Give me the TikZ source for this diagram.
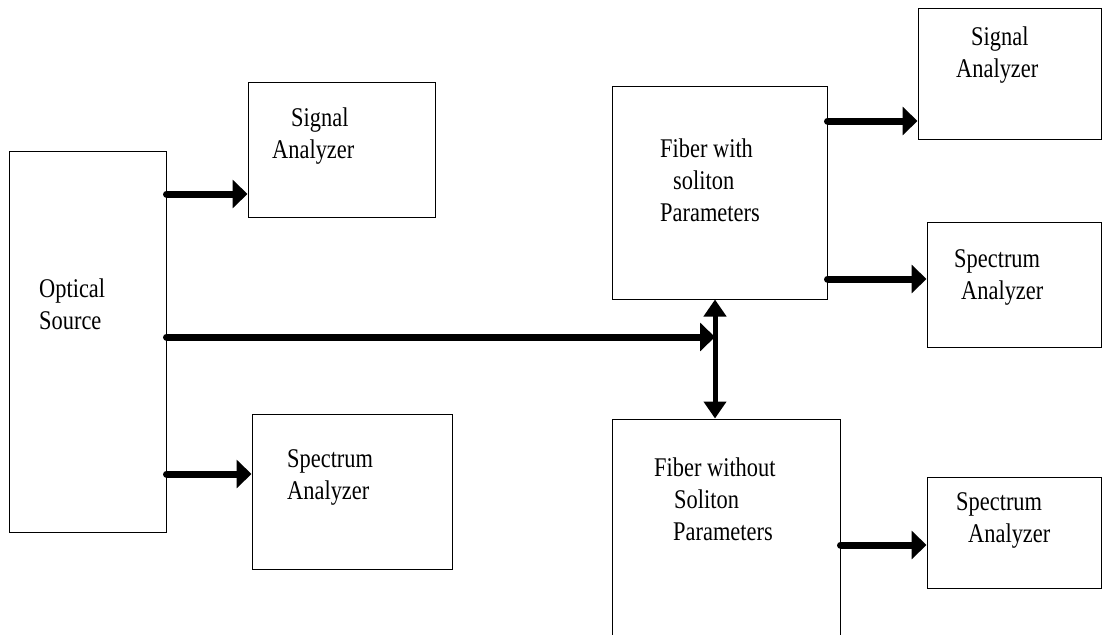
\documentclass[tikz,border=0pt]{standalone}
\usepackage{fontspec}
\setmainfont[FakeStretch=0.83]{Liberation Serif}
\usetikzlibrary{arrows.meta}

\begin{document}
\begin{tikzpicture}[x=1pt, y=-1pt,
    blk/.style={draw, line width=1pt, rectangle, inner sep=0pt},
    lbl/.style={anchor=north west, inner sep=0pt, align=left, font=\fontsize{27}{32}\selectfont},
    arr/.style={line width=7pt, line cap=round, -{Triangle[length=15pt, width=28pt]}},
    varr/.style={line width=5pt, {Triangle[length=17pt, width=22pt]}-{Triangle[length=17pt, width=22pt]}}]

    \useasboundingbox (0,0) rectangle (1102,634);
    \clip (0,0) rectangle (1102,634);

    % Source
    \node[blk, minimum width=157pt, minimum height=381pt] at (87.5, 341.5) (src) {};
    \node[lbl] at (39, 278.6) (srcText) {Optical\\Source};

    % Analyzers after the source
    \node[blk, minimum width=187pt, minimum height=135pt] at (341.5, 149.5) (sigL) {};
    \node[lbl] at (272, 107.6) (sigLText) {\hspace*{19pt}Signal\\Analyzer};
    \node[blk, minimum width=200pt, minimum height=155pt] at (352, 491.5) (specL) {};
    \node[lbl] at (287, 449.6) (specLText) {Spectrum\\Analyzer};

    \draw[arr] (src.east |- 0,194) -- (sigL.west |- 0,194);
    \draw[arr] (src.east |- 0,474) -- (specL.west |- 0,474);

    % Fibers
    \node[blk, minimum width=215pt, minimum height=213pt] at (719.5, 192.5) (fibW) {};
    \node[lbl] at (660, 138.6) (fibWText) {Fiber with\\\hspace*{13pt}soliton\\Parameters};
    \node[blk, minimum width=228pt, minimum height=241pt] at (726, 539.5) (fibWO) {};
    \node[lbl] at (654, 457.6) (fibWOText) {Fiber without\\\hspace*{20pt}Soliton\\\hspace*{19pt}Parameters};

    % Split to both fibers
    \coordinate (jn) at (715, 337);
    \draw[arr] (src.east |- jn) -- (jn);
    \draw[varr] (fibW.south -| jn) -- (fibWO.north -| jn);

    % Analyzers after the fibers
    \node[blk, minimum width=183pt, minimum height=130pt] at (1009.5, 74) (sigR) {};
    \node[lbl] at (956, 26.6) (sigRText) {\hspace*{15pt}Signal\\Analyzer};
    \node[blk, minimum width=174pt, minimum height=125pt] at (1014, 284.5) (specR1) {};
    \node[lbl] at (954, 249.6) (specR1Text) {Spectrum\\\hspace*{7pt}Analyzer};
    \node[blk, minimum width=174pt, minimum height=111pt] at (1014, 532.5) (specR2) {};
    \node[lbl] at (956, 492.6) (specR2Text) {Spectrum\\\hspace*{12pt}Analyzer};

    \draw[arr] (fibW.east |- 0,121) -- (sigR.west |- 0,121);
    \draw[arr] (fibW.east |- 0,279) -- (specR1.west |- 0,279);
    \draw[arr] (fibWO.east |- 0,545) -- (specR2.west |- 0,545);
\end{tikzpicture}
\end{document}
